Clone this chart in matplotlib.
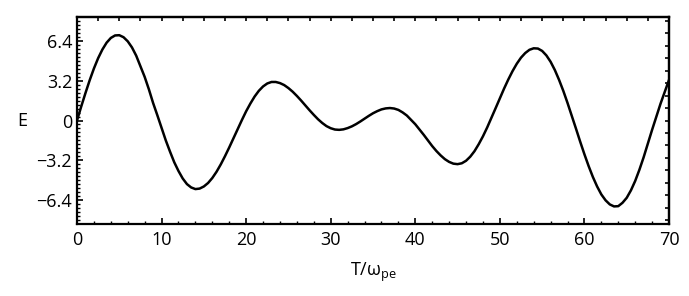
import numpy as np
import matplotlib
matplotlib.use('Agg')
import matplotlib.pyplot as plt
from matplotlib.ticker import MultipleLocator

# curve, one sample per half unit of T
T = [k / 2 for k in range(0, 141)]
E = [0.0, 1.12, 2.2, 3.23, 4.17, 5.0, 5.69, 6.24, 6.62, 6.82,
     6.84, 6.68, 6.35, 5.86, 5.2, 4.35, 3.5, 2.5, 1.4, 0.42,
     -0.6, -1.6, -2.5, -3.35, -4.05, -4.65, -5.1, -5.37, -5.5, -5.46,
     -5.29, -5.01, -4.61, -4.11, -3.52, -2.86, -2.16, -1.42, -0.68, 0.04,
     0.74, 1.36, 1.92, 2.38, 2.73, 2.97, 3.09, 3.09, 3.0, 2.84,
     2.6, 2.31, 1.97, 1.6, 1.21, 0.82, 0.45, 0.1, -0.2, -0.45,
     -0.62, -0.725, -0.75, -0.71, -0.61, -0.47, -0.29, -0.08, 0.15, 0.37,
     0.58, 0.75, 0.89, 0.97, 1.0, 0.96, 0.85, 0.65, 0.4, 0.05,
     -0.3, -0.72, -1.15, -1.6, -2.05, -2.45, -2.8, -3.1, -3.32, -3.46,
     -3.5, -3.43, -3.23, -2.9, -2.46, -1.9, -1.27, -0.56, 0.21, 0.99,
     1.78, 2.56, 3.29, 3.96, 4.55, 5.04, 5.41, 5.67, 5.79, 5.77,
     5.58, 5.22, 4.71, 4.05, 3.26, 2.38, 1.41, 0.39, -0.65, -1.7,
     -2.71, -3.66, -4.53, -5.29, -5.93, -6.4, -6.73, -6.89, -6.87, -6.6,
     -6.2, -5.6, -4.85, -3.95, -2.95, -1.85, -0.75, 0.3, 1.35, 2.3,
     3.25]

yticks = [-6.4, -3.2, 0, 3.2, 6.4]
ytick_labels = ['\u22126.4', '\u22123.2', '0', '3.2', '6.4']
xticks = [0, 10, 20, 30, 40, 50, 60, 70]

plt.rcParams['font.family'] = ['Open Sans', 'DejaVu Sans']
plt.rcParams['mathtext.fontset'] = 'custom'
plt.rcParams['mathtext.rm'] = 'Open Sans'

fig = plt.figure(figsize=(6.89, 2.96), dpi=100)
ax = fig.add_axes([77/689, 1-224/296, 592/689, 207/296])

ax.plot(T, E, color='black', lw=1.8, solid_joinstyle='round')
ax.set_xlim(0, 70)
ax.set_ylim(-8.3, 8.3)

for s in ax.spines.values():
    s.set_linewidth(1.6)

# bottom / left ticks with labels
ax.set_xticks(xticks)
ax.set_xticklabels([str(v) for v in xticks])
ax.xaxis.set_minor_locator(MultipleLocator(2))
ax.set_yticks(yticks)
ax.set_yticklabels(ytick_labels)
ax.yaxis.set_minor_locator(MultipleLocator(0.32))
ax.tick_params(which='major', direction='in', length=4.5, width=1.2,
               labelsize=13, top=False, right=False)
ax.tick_params(axis='x', which='major', pad=5)
ax.tick_params(axis='y', which='major', pad=3.5)
ax.tick_params(which='minor', direction='in', length=2.2, width=1.0,
               top=False, right=False)

# top and right frames carry their own unlabelled ticks
top = ax.secondary_xaxis('top')
top.set_xticks(np.arange(0, 70.1, 2.5))
top.tick_params(direction='in', length=3, width=1.2, labeltop=False)
top.spines['top'].set_linewidth(1.6)
right = ax.secondary_yaxis('right')
right.set_yticks(np.arange(-8, 8.1, 1.0))
right.tick_params(direction='in', length=3, width=1.2, labelright=False)
right.spines['right'].set_linewidth(1.6)

ax.set_xlabel('T/\u03c9$_{\\mathrm{pe}}$', fontsize=13)
ax.xaxis.set_label_coords(0.5, -0.18)
ax.set_ylabel('E', fontsize=13, rotation=0, va='center', ha='center')
ax.yaxis.set_label_coords(-0.092, 0.5)

fig.savefig('out.png', dpi=100)
